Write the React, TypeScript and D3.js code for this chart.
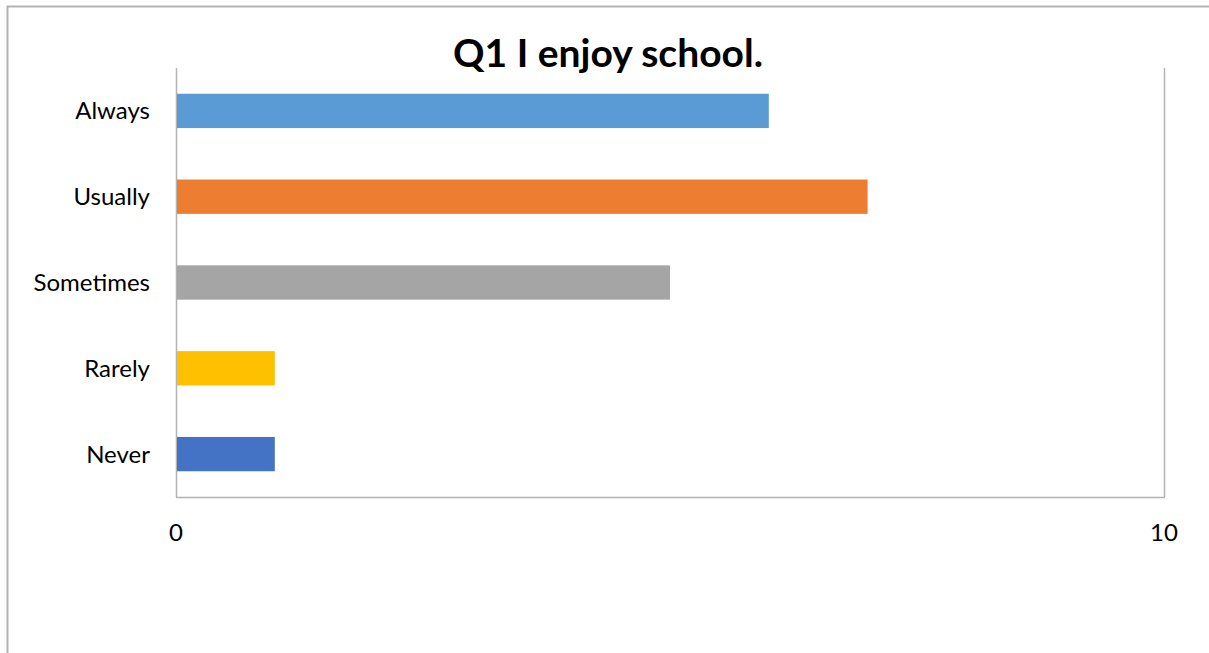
import React, { useEffect, useRef } from "react";
import * as d3 from "d3";

const categories = ["Always", "Usually", "Sometimes", "Rarely", "Never"];
const values = [6, 7, 5, 1, 1];
const barColors = ["#5B9BD5", "#ED7D31", "#A5A5A5", "#FFC000", "#4472C4"];
const tickValues = [0, 10];

const width = 1209;
const height = 653;

export default function App() {
  const svgRef = useRef<SVGSVGElement>(null);

  useEffect(() => {
    const svg = d3.select(svgRef.current);
    svg.selectAll("*").remove();

    const plot = { left: 176, right: 1164, top: 68, bottom: 497 };
    const font = "Lato, 'Open Sans', sans-serif";

    const x = d3.scaleLinear().domain([0, 10]).range([plot.left, plot.right]);
    const y = d3
      .scaleBand()
      .domain(categories)
      .range([plot.top, plot.bottom])
      .paddingInner(0.6)
      .paddingOuter(0.3);

    // outer chart border (left + top only visible)
    svg
      .append("path")
      .attr("d", `M7.5,${height} L7.5,6.5 L${width},6.5`)
      .attr("fill", "none")
      .attr("stroke", "#b3b3b3")
      .attr("stroke-width", 2);

    // title
    svg
      .append("text")
      .text("Q1 I enjoy school.")
      .attr("x", 608)
      .attr("y", 67)
      .attr("text-anchor", "middle")
      .attr("font-family", font)
      .attr("font-weight", 700)
      .attr("font-size", 39)
      .attr("fill", "#000");

    // gridlines at ticks
    svg
      .append("g")
      .selectAll("line")
      .data(tickValues)
      .join("line")
      .attr("x1", (d) => Math.round(x(d)) + 0.5)
      .attr("x2", (d) => Math.round(x(d)) + 0.5)
      .attr("y1", plot.top)
      .attr("y2", plot.bottom)
      .attr("stroke", "#b3b3b3")
      .attr("stroke-width", 1.5);

    // bottom axis line
    svg
      .append("line")
      .attr("x1", plot.left)
      .attr("x2", plot.right + 1)
      .attr("y1", plot.bottom + 0.5)
      .attr("y2", plot.bottom + 0.5)
      .attr("stroke", "#b3b3b3")
      .attr("stroke-width", 1.5);

    // bars
    svg
      .append("g")
      .selectAll("rect")
      .data(categories)
      .join("rect")
      .attr("x", x(0) + 1)
      .attr("y", (d) => y(d)!)
      .attr("width", (d, i) => x(values[i]) - x(0) - 1)
      .attr("height", y.bandwidth())
      .attr("fill", (d, i) => barColors[i]);

    // category labels
    svg
      .append("g")
      .selectAll("text")
      .data(categories)
      .join("text")
      .text((d) => d)
      .attr("x", 150)
      .attr("y", (d) => y(d)! + y.bandwidth() / 2)
      .attr("dy", "0.35em")
      .attr("text-anchor", "end")
      .attr("font-family", font)
      .attr("font-size", 24)
      .attr("fill", "#000");

    // x tick labels
    svg
      .append("g")
      .selectAll("text")
      .data(tickValues)
      .join("text")
      .text((d) => d)
      .attr("x", (d) => x(d))
      .attr("y", 533)
      .attr("dy", "0.35em")
      .attr("text-anchor", "middle")
      .attr("font-family", font)
      .attr("font-size", 24)
      .attr("fill", "#000");
  }, []);

  return (
    <svg
      ref={svgRef}
      width={width}
      height={height}
      style={{ position: "absolute", left: 0, top: 0, background: "#fff" }}
    />
  );
}
